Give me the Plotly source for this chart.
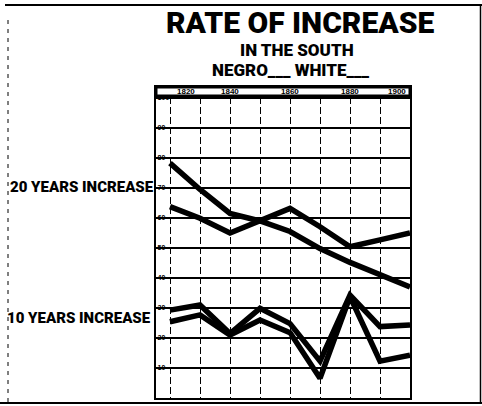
import plotly.graph_objects as go

# ---- data ----
years = [1820, 1830, 1840, 1850, 1860, 1870, 1880, 1890, 1900]
white_20yr = [78.3, 69.5, 61.5, 59.0, 55.5, 49.8, 45.2, 41.2, 37.0]
negro_20yr = [63.8, 59.9, 55.0, 59.3, 63.2, 57.1, 50.4, 52.7, 55.0]
white_10yr = [29.3, 31.0, 21.5, 29.9, 24.8, 12.3, 34.3, 23.8, 24.3]
negro_10yr = [25.4, 27.7, 21.0, 26.0, 21.8, 6.6, 33.8, 12.3, 14.3]

y_ticks = [0, 10, 20, 30, 40, 50, 60, 70, 80, 90, 100]
y_tick_labels = ["0", "10", "20", "30", "40", "50", "60", "70", "80", "90", "100"]
header_years = [1820, 1840, 1860, 1880, 1900]
header_labels = ["1820", "1840", "1860", "1880", "1900"]

HEAVYFONT = "Roboto, Liberation Sans, Arial, sans-serif"
SMALLFONT = "Liberation Sans, Arial, sans-serif"

# plot area in pixels
L, R, T, B = 156, 410, 87, 398
W, H = 482, 406


def px(x):
    return (x - L) / (R - L)


def py(y):
    return (B - y) / (B - T)


fig = go.Figure()
for s in [white_20yr, negro_20yr, white_10yr, negro_10yr]:
    fig.add_trace(go.Scatter(x=years, y=s, mode="lines",
                             line=dict(color="black", width=5.5),
                             showlegend=False, hoverinfo="skip"))

x_min = 1820 - 10 * (170 - L) / 30
y_max = (B - T) / 3.0


def label(text, x, y, size, anchor="center"):
    return dict(text=text, x=px(x), y=py(y), xref="paper", yref="paper",
                showarrow=False, xanchor=anchor, yanchor="middle", borderpad=0,
                font=dict(family=HEAVYFONT, size=size, color="black", weight=900))


annotations = [
    label("RATE OF INCREASE", 300, 22.5, 30),
    label("IN THE SOUTH", 297, 50.5, 17),
    label("NEGRO___ WHITE___", 291, 70, 17),
    label("20 YEARS INCREASE", 9, 187, 15, "left"),
    label("10 YEARS INCREASE", 6, 318, 15, "left"),
]
# header band years
for i, (yr, lab) in enumerate(zip(header_years, header_labels)):
    anchor = "left" if i == 0 else ("right" if i == len(header_years) - 1 else "center")
    xv = yr + 2 if i == 0 else (yr - 1 if i == len(header_years) - 1 else yr)
    annotations.append(dict(text=lab, x=xv, y=(100.67 + y_max) / 2, xref="x", yref="y",
                            showarrow=False, xanchor=anchor, yanchor="middle", borderpad=0,
                            font=dict(family=SMALLFONT, size=8, color="black", weight="bold")))

shapes = [
    # header band
    dict(type="rect", xref="paper", yref="y", x0=0, x1=1, y0=100.67, y1=y_max,
         fillcolor="white", line=dict(color="black", width=3), layer="above"),
    # outer frame
    dict(type="line", xref="paper", yref="paper", x0=px(5), x1=px(482), y0=py(5), y1=py(5),
         line=dict(color="black", width=2)),
    dict(type="line", xref="paper", yref="paper", x0=px(480.5), x1=px(480.5), y0=py(5), y1=py(403),
         line=dict(color="black", width=1.5)),
    dict(type="line", xref="paper", yref="paper", x0=px(0), x1=px(482), y0=py(403), y1=py(403),
         line=dict(color="black", width=2)),
    dict(type="line", xref="paper", yref="paper", x0=px(8), x1=px(8), y0=py(20), y1=py(403),
         line=dict(color="black", width=1, dash="4px,5px")),
]

fig.update_layout(
    width=W, height=H,
    margin=dict(l=L, r=W - R, t=T, b=H - B, pad=0),
    paper_bgcolor="white", plot_bgcolor="white",
    xaxis=dict(range=[x_min, 1900], tickvals=years, showticklabels=False, ticks="",
               showgrid=True, gridcolor="black", gridwidth=1, griddash="7px,3px",
               zeroline=False, showline=True, linecolor="black", linewidth=2, mirror=True,
               fixedrange=True),
    yaxis=dict(range=[0, y_max], tickvals=y_ticks, ticktext=y_tick_labels,
               ticklabelposition="inside", ticks="",
               tickfont=dict(family=SMALLFONT, size=7, color="black", weight="bold"),
               showgrid=True, gridcolor="black", gridwidth=1.5,
               zeroline=False, showline=True, linecolor="black", linewidth=2, mirror=True,
               fixedrange=True),
    annotations=annotations,
    shapes=shapes,
)

fig.write_html("out.html", config={"displayModeBar": False},
               post_script="document.body.style.margin='0px';document.body.style.overflow='hidden';")
